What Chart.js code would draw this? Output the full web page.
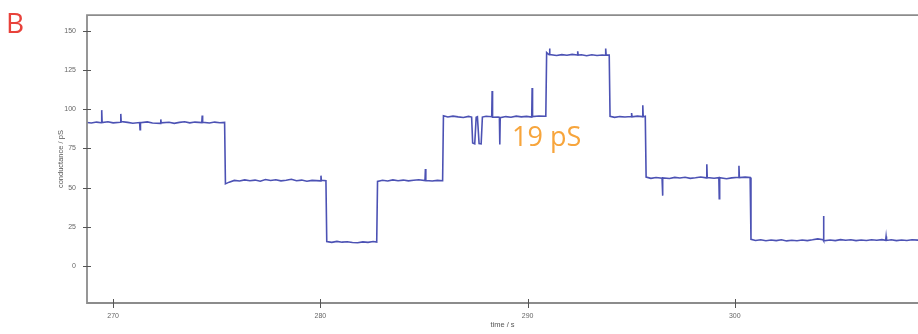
<!DOCTYPE html>
<html>
<head>
<meta charset="utf-8">
<script src="https://cdn.jsdelivr.net/npm/chart.js@4/dist/chart.umd.min.js"></script>
<style>
  body { margin: 0; background: #fff; }
  #wrap { width: 918px; height: 334px; }
</style>
</head>
<body>
<div id="wrap"><canvas id="myChart" width="918" height="334"></canvas></div>
<script>
// single channel trace, time in s, conductance in pS
const timeS = [
    268.70, 268.95, 269.20, 269.43, 269.45, 269.47, 269.75, 270.00, 270.35, 270.37, 270.39, 270.70, 270.95, 271.28, 271.30, 271.32, 271.65, 271.90, 272.28, 272.30, 272.32, 272.70, 272.95, 273.20, 273.45, 273.70, 273.95, 274.28, 274.30, 274.32, 274.65, 274.90, 275.15, 275.38,
    275.42, 275.60, 275.85, 276.10, 276.35, 276.60, 276.85, 277.10, 277.35, 277.60, 277.85, 278.10, 278.35, 278.60, 278.85, 279.10, 279.35, 279.60, 280.01, 280.03, 280.05, 280.27,
    280.31, 280.55, 280.80, 281.05, 281.30, 281.55, 281.80, 282.05, 282.30, 282.55, 282.72,
    282.76, 283.00, 283.25, 283.50, 283.75, 284.00, 284.25, 284.50, 284.75, 285.05, 285.07, 285.09, 285.40, 285.65, 285.90,
    285.94, 286.15, 286.40, 286.65, 286.90, 287.15, 287.30, 287.35, 287.45, 287.52, 287.58, 287.66, 287.76, 287.82, 288.00, 288.27, 288.29, 288.31, 288.58, 288.64, 288.66, 288.68, 288.95, 289.20, 289.45, 289.70, 289.95, 290.20, 290.22, 290.24, 290.55, 290.88,
    290.92, 291.04, 291.06, 291.08, 291.40, 291.65, 291.90, 292.15, 292.40, 292.42, 292.44, 292.60, 292.85, 293.10, 293.35, 293.60, 293.75, 293.77, 293.79, 293.94,
    293.98, 294.20, 294.45, 294.70, 295.00, 295.02, 295.04, 295.30, 295.54, 295.56, 295.58, 295.68,
    295.72, 295.95, 296.20, 296.49, 296.51, 296.53, 296.85, 297.10, 297.35, 297.60, 297.85, 298.10, 298.35, 298.63, 298.65, 298.67, 299.00, 299.23, 299.25, 299.27, 299.60, 299.85, 300.18, 300.20, 300.22, 300.50, 300.74,
    300.78, 301.00, 301.25, 301.50, 301.75, 302.00, 302.25, 302.50, 302.75, 303.00, 303.25, 303.50, 303.75, 304.00, 304.26, 304.28, 304.30, 304.60, 304.85, 305.10, 305.35, 305.60, 305.85, 306.10, 306.35, 306.60, 306.85, 307.10, 307.28, 307.30, 307.32, 307.55, 307.80, 308.05, 308.30, 308.55, 308.85
];
const conductancePS = [
    91.6, 91.2, 91.8, 91.4, 99.4, 91.5, 92.0, 91.3, 91.7, 97.0, 92.2, 91.6, 91.1, 91.5, 87.0, 91.4, 91.9, 91.2, 91.0, 93.5, 91.3, 91.7, 91.0, 91.6, 92.0, 91.3, 91.8, 91.5, 96.0, 91.7, 91.2, 91.8, 91.4, 91.6,
    52.5, 53.6, 54.7, 54.3, 55.0, 54.5, 54.9, 54.2, 55.3, 54.6, 55.1, 54.4, 54.8, 55.4, 54.5, 54.9, 54.2, 54.7, 54.4, 57.7, 54.8, 54.5,
    15.8, 15.3, 15.9, 15.4, 15.7, 15.2, 15.0, 15.6, 15.3, 15.8, 15.5,
    54.0, 54.8, 54.3, 55.0, 54.5, 54.9, 54.4, 54.8, 55.1, 54.6, 62.0, 54.6, 54.3, 54.7, 54.5,
    95.8, 95.0, 95.6, 95.1, 94.7, 95.4, 95.0, 78.5, 78.0, 94.8, 95.2, 78.2, 78.0, 95.0, 95.5, 95.2, 111.5, 94.9, 95.0, 94.8, 77.5, 94.6, 95.3, 94.9, 95.6, 95.1, 95.4, 95.0, 113.5, 95.3, 95.7, 95.5,
    136.0, 134.6, 138.6, 134.8, 134.2, 134.7, 134.3, 134.9, 134.5, 136.8, 134.4, 134.6, 134.0, 134.6, 134.2, 134.5, 134.3, 138.6, 134.4, 134.5,
    95.5, 94.8, 95.3, 95.0, 95.4, 97.5, 95.1, 95.6, 95.3, 102.5, 95.2, 95.5,
    56.8, 56.0, 56.5, 56.1, 45.0, 56.3, 55.9, 56.6, 56.2, 56.7, 56.0, 56.4, 56.9, 56.3, 65.0, 56.5, 56.1, 56.4, 43.0, 56.4, 55.8, 56.3, 56.7, 64.0, 56.5, 56.8, 56.6,
    17.2, 16.5, 16.9, 16.3, 16.8, 16.4, 16.9, 16.2, 16.6, 16.3, 16.8, 16.4, 16.9, 17.5, 16.9, 32.0, 16.2, 16.8, 16.4, 17.0, 16.6, 16.9, 16.4, 16.8, 16.5, 16.9, 16.6, 17.0, 16.6, 19.0, 16.5, 16.9, 16.4, 16.8, 16.5, 16.9, 16.7
];
const xTicks = [270, 280, 290, 300];
const yTicks = [0, 25, 50, 75, 100, 125, 150];
const xTitle = 'time / s';
const yTitle = 'conductance / pS';
const panelLabel = 'B';
const stepLabel = '19 pS';

// frame, ticks crossing the axes, and the two labels
const framePlugin = {
    id: 'frame',
    afterDraw(chart) {
        const ctx = chart.ctx;
        const a = chart.chartArea;
        const xs = chart.scales.x, ys = chart.scales.y;
        ctx.save();
        ctx.strokeStyle = '#8c8c8c';
        ctx.lineWidth = 1.8;
        ctx.beginPath();
        ctx.moveTo(chart.width, a.top);
        ctx.lineTo(a.left, a.top);
        ctx.lineTo(a.left, a.bottom);
        ctx.lineTo(chart.width, a.bottom);
        ctx.stroke();
        ctx.strokeStyle = '#555';
        ctx.lineWidth = 1;
        ctx.beginPath();
        yTicks.forEach(v => {
            let y = Math.round(ys.getPixelForValue(v)) + 0.5;
            ctx.moveTo(a.left - 4, y);
            ctx.lineTo(a.left + 4, y);
        });
        xTicks.forEach(v => {
            let x = Math.round(xs.getPixelForValue(v)) + 0.5;
            ctx.moveTo(x, a.bottom - 4);
            ctx.lineTo(x, a.bottom + 5);
        });
        ctx.stroke();
        ctx.textBaseline = 'alphabetic';
        ctx.font = '28px "Open Sans"';
        ctx.fillStyle = '#e8423b';
        ctx.fillText(panelLabel, 6, 33);
        ctx.font = '27px "Open Sans"';
        ctx.fillStyle = '#f7a53c';
        ctx.fillText(stepLabel, 512, 146);
        ctx.restore();
    }
};

const tickFont = { family: '"Liberation Sans", Arial, sans-serif', size: 7 };
const titleFont = { family: '"Liberation Sans", Arial, sans-serif', size: 7.5 };

new Chart(document.getElementById('myChart').getContext('2d'), {
    type: 'line',
    data: {
        datasets: [{
            label: 'conductance',
            data: timeS.map((t, i) => ({ x: t, y: conductancePS[i] })),
            borderColor: '#4c52b4',
            borderWidth: 1.6,
            pointRadius: 0,
            tension: 0,
            fill: false
        }]
    },
    options: {
        responsive: false,
        animation: false,
        layout: { padding: { top: 9, right: 0, bottom: 0, left: 0 } },
        plugins: { legend: { display: false }, tooltip: { enabled: false } },
        scales: {
            x: {
                type: 'linear',
                min: 268.74,
                max: 308.84,
                afterBuildTicks: s => { s.ticks = xTicks.map(v => ({ value: v })); },
                afterFit: s => { s.height = 31; },
                grid: { display: false, drawTicks: false },
                border: { display: false },
                ticks: { color: '#666', font: tickFont, padding: 9, maxRotation: 0 },
                title: { display: true, text: xTitle, color: '#555', font: titleFont, padding: { top: 0, bottom: 5 } }
            },
            y: {
                type: 'linear',
                min: -23.3,
                max: 159.8,
                afterBuildTicks: s => { s.ticks = yTicks.map(v => ({ value: v })); },
                afterFit: s => { s.width = 87; },
                grid: { display: false, drawTicks: false },
                border: { display: false },
                ticks: { color: '#666', font: tickFont, padding: 11 },
                title: { display: true, text: yTitle, color: '#555', font: titleFont, padding: { top: 56, bottom: 0 } }
            }
        }
    },
    plugins: [framePlugin]
});
</script>
</body>
</html>
